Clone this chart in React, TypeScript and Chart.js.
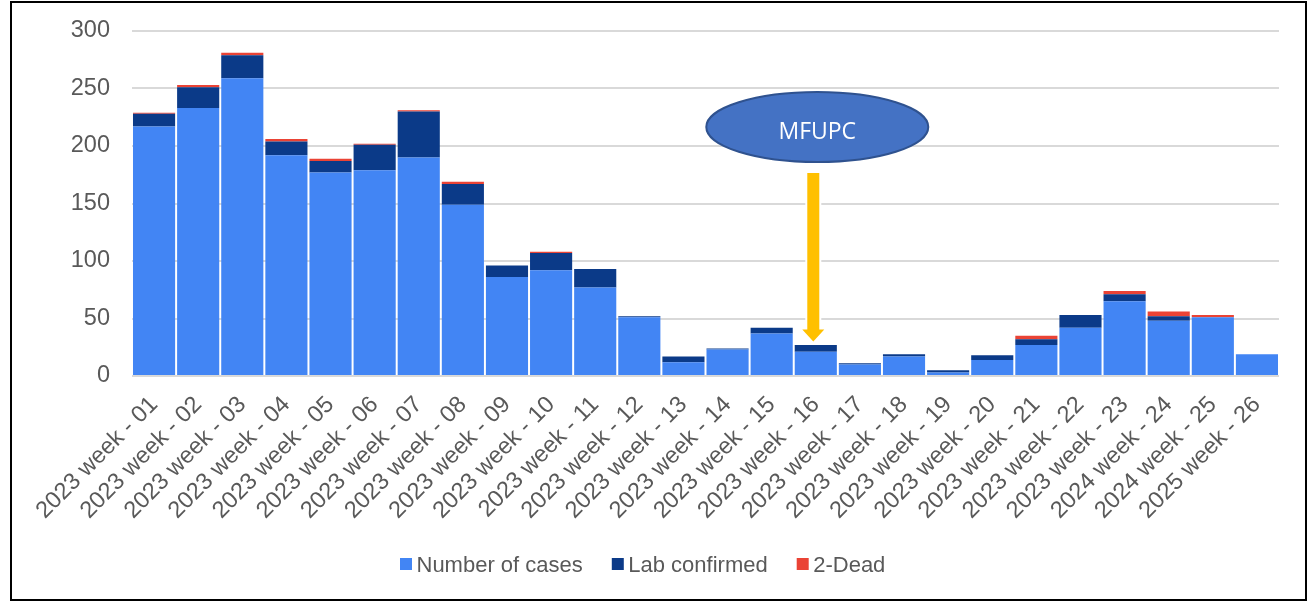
import React, { useEffect, useRef } from "react";
import { Chart, registerables } from "chart.js";

Chart.register(...registerables);

const categories = [
  "2023 week - 01", "2023 week - 02", "2023 week - 03", "2023 week - 04", "2023 week - 05",
  "2023 week - 06", "2023 week - 07", "2023 week - 08", "2023 week - 09", "2023 week - 10",
  "2023 week - 11", "2023 week - 12", "2023 week - 13", "2023 week - 14", "2023 week - 15",
  "2023 week - 16", "2023 week - 17", "2023 week - 18", "2023 week - 19", "2023 week - 20",
  "2023 week - 21", "2023 week - 22", "2023 week - 23", "2024 week - 24", "2024 week - 25",
  "2025 week - 26",
];
const casesData = [217, 233, 259, 192, 177, 179, 190, 149, 86, 92, 77, 51, 12, 23, 37, 21, 10, 17, 3, 14, 27, 42, 65, 48, 51, 19];
const labData = [11, 18, 20, 12, 10, 22, 40, 18, 10, 15, 16, 1, 5, 1, 5, 6, 1, 2, 2, 4, 5, 11, 6, 4, 0, 0];
const deadData = [1, 2, 2, 2, 2, 1, 1, 2, 0, 1, 0, 0, 0, 0, 0, 0, 0, 0, 0, 0, 3, 0, 3, 4, 2, 0];
const seriesNames = ["Number of cases", "Lab confirmed", "2-Dead"];
const seriesColors = ["#4285F4", "#0B3A88", "#EA4335"];
const yTickMax = 300;
const yTickStep = 50;

// annotation
const markerIndex = 15;
const markerLabel = "MFUPC";
const markerEllipseValue = 216.5;
const arrowTopValue = 176.5;
const arrowHeadValue = 40.5;
const arrowTipValue = 30;

const FONT = '"Liberation Sans", Arial, sans-serif';
const TEXT = "#595959";

const annotationPlugin = {
  id: "mfupc",
  afterDatasetsDraw(chart: any) {
    const { ctx, scales } = chart;
    const xs = scales.x;
    const ys = scales.y;
    const bx = xs.getPixelForValue(markerIndex);
    // arrow
    const ax = bx - 2.5;
    const top = ys.getPixelForValue(arrowTopValue);
    const head = ys.getPixelForValue(arrowHeadValue);
    const tip = ys.getPixelForValue(arrowTipValue);
    ctx.save();
    ctx.beginPath();
    ctx.moveTo(ax - 6, top);
    ctx.lineTo(ax + 6, top);
    ctx.lineTo(ax + 6, head);
    ctx.lineTo(ax + 11, head);
    ctx.lineTo(ax, tip);
    ctx.lineTo(ax - 11, head);
    ctx.lineTo(ax - 6, head);
    ctx.closePath();
    ctx.strokeStyle = "#FFFFFF";
    ctx.lineWidth = 4;
    ctx.lineJoin = "miter";
    ctx.stroke();
    ctx.fillStyle = "#FFC000";
    ctx.fill();
    // ellipse
    const ex = bx + 1.5;
    const ey = ys.getPixelForValue(markerEllipseValue);
    ctx.beginPath();
    ctx.ellipse(ex, ey, 111, 35, 0, 0, Math.PI * 2);
    ctx.fillStyle = "#4472C4";
    ctx.fill();
    ctx.lineWidth = 2;
    ctx.strokeStyle = "#2F528F";
    ctx.stroke();
    ctx.fillStyle = "#FFFFFF";
    ctx.font = '23px "Open Sans", "Liberation Sans", sans-serif';
    ctx.textAlign = "center";
    ctx.textBaseline = "alphabetic";
    ctx.fillText(markerLabel, ex, ey + 12);
    ctx.restore();
  },
};

const legendPlugin = {
  id: "customLegend",
  afterDraw(chart: any) {
    const { ctx } = chart;
    ctx.save();
    ctx.font = "22px " + FONT;
    ctx.textBaseline = "alphabetic";
    ctx.textAlign = "left";
    const box = 12;
    const gapText = 4.5;
    const gapItem = 29;
    let x = 388;
    const baseline = 568.5;
    chart.data.datasets.forEach((ds: any) => {
      ctx.fillStyle = ds.backgroundColor;
      ctx.fillRect(x, baseline - 13.5, box, box);
      x += box + gapText;
      ctx.fillStyle = TEXT;
      ctx.fillText(ds.label, x, baseline);
      x += ctx.measureText(ds.label).width + gapItem;
    });
    ctx.restore();
  },
};

export default function App() {
  const ref = useRef<HTMLCanvasElement | null>(null);
  useEffect(() => {
    if (!ref.current) return;
    const data = [casesData, labData, deadData];
    const chart = new Chart(ref.current, {
      type: "bar",
      data: {
        labels: categories,
        datasets: seriesNames.map((name, i) => ({
          label: name,
          data: data[i],
          backgroundColor: seriesColors[i],
          borderWidth: 0,
          barPercentage: 0.955,
          categoryPercentage: 1,
        })),
      },
      options: {
        responsive: false,
        animation: false,
        devicePixelRatio: 1,
        layout: { padding: { left: 0, top: 28, right: 26, bottom: 0 } },
        plugins: {
          legend: { display: false },
          tooltip: { enabled: false },
          title: { display: false },
        },
        scales: {
          x: {
            stacked: true,
            grid: { display: false },
            border: { display: false },
            ticks: {
              autoSkip: false,
              maxRotation: 45,
              minRotation: 45,
              padding: 7,
              color: TEXT,
              font: { family: FONT, size: 23.5 },
            },
            afterFit(scale: any) {
              scale.height = 223;
            },
          },
          y: {
            stacked: true,
            min: 0,
            max: yTickMax,
            grid: { color: "#D9D9D9", lineWidth: 2, drawTicks: false },
            border: { display: false },
            ticks: {
              stepSize: yTickStep,
              padding: 22,
              color: TEXT,
              font: { family: FONT, size: 23.5 },
            },
            afterFit(scale: any) {
              scale.width = 120;
              scale.paddingTop = 0;
              scale.paddingBottom = 0;
            },
          },
        },
      },
      plugins: [annotationPlugin, legendPlugin],
    });
    return () => chart.destroy();
  }, []);

  return (
    <div
      style={{
        position: "absolute",
        left: 10,
        top: 1,
        width: 1293,
        height: 596,
        border: "2px solid #000",
        background: "#fff",
      }}
    >
      <canvas ref={ref} width={1293} height={596} style={{ display: "block" }} />
    </div>
  );
}
